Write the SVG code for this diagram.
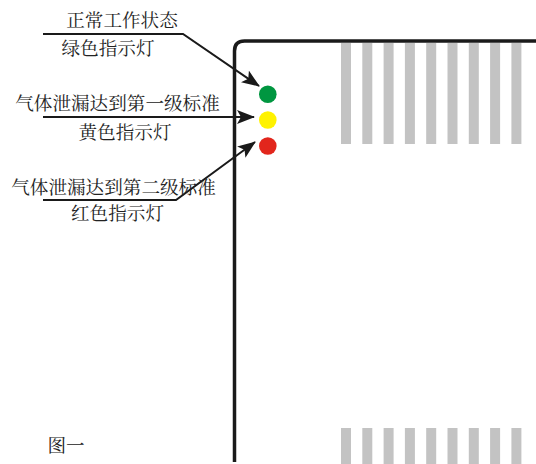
<svg xmlns="http://www.w3.org/2000/svg" width="536" height="464" viewBox="0 0 536 464">
<style>
.t{font-family:"Noto Serif CJK SC","Noto Sans CJK SC","Liberation Serif",serif;font-size:18.6px;fill:#222;text-anchor:middle}
.c{fill:none;stroke:#1a1a1a;stroke-width:2}
.s{fill:#c3c3c3}
</style>
<defs>
<marker id="ah" markerWidth="18" markerHeight="14" refX="17" refY="7" orient="auto" markerUnits="userSpaceOnUse">
<path d="M0,0 L18,7 L0,14 L4,7 Z" fill="#1a1a1a"/>
</marker>
</defs>
<g id="box">
<path d="M234.5,462 L234.5,51 Q234.5,41 244.5,41 L536,41" fill="none" stroke="#1a1a1a" stroke-width="3.5"/>
</g>
<g id="stripes-top">
<rect class="s" x="341" y="43" width="10" height="101"/>
<rect class="s" x="362.3" y="43" width="10" height="101"/>
<rect class="s" x="383.6" y="43" width="10" height="101"/>
<rect class="s" x="404.9" y="43" width="10" height="101"/>
<rect class="s" x="426.2" y="43" width="10" height="101"/>
<rect class="s" x="447.5" y="43" width="10" height="101"/>
<rect class="s" x="468.8" y="43" width="10" height="101"/>
<rect class="s" x="490.1" y="43" width="10" height="101"/>
<rect class="s" x="511.4" y="43" width="10" height="101"/>
</g>
<g id="stripes-bottom">
<rect class="s" x="341" y="428" width="10" height="36"/>
<rect class="s" x="362.3" y="428" width="10" height="36"/>
<rect class="s" x="383.6" y="428" width="10" height="36"/>
<rect class="s" x="404.9" y="428" width="10" height="36"/>
<rect class="s" x="426.2" y="428" width="10" height="36"/>
<rect class="s" x="447.5" y="428" width="10" height="36"/>
<rect class="s" x="468.8" y="428" width="10" height="36"/>
<rect class="s" x="490.1" y="428" width="10" height="36"/>
<rect class="s" x="511.4" y="428" width="10" height="36"/>
</g>
<g id="green-light"><circle cx="267.8" cy="94.3" r="8.8" fill="#009640"/></g>
<g id="yellow-light"><circle cx="267.8" cy="120" r="8.8" fill="#fff200"/></g>
<g id="red-light"><circle cx="267.8" cy="146" r="8.8" fill="#e2261c"/></g>
<g id="connectors">
<path class="c" d="M43,34 L183,34 L259,86" marker-end="url(#ah)"/>
<path class="c" d="M43,117 L254,117" marker-end="url(#ah)"/>
<path class="c" d="M43,200 L176,200 L255,142" marker-end="url(#ah)"/>
</g>
<g id="label-green">
<text class="t" x="122" y="27">正常工作状态</text>
<text class="t" x="108" y="55">绿色指示灯</text>
</g>
<g id="label-yellow">
<text class="t" x="117.5" y="110">气体泄漏达到第一级标准</text>
<text class="t" x="125" y="139">黄色指示灯</text>
</g>
<g id="label-red">
<text class="t" x="113.5" y="194">气体泄漏达到第二级标准</text>
<text class="t" x="117.5" y="220">红色指示灯</text>
</g>
<g id="caption">
<text class="t" x="66" y="452">图一</text>
</g>
</svg>
